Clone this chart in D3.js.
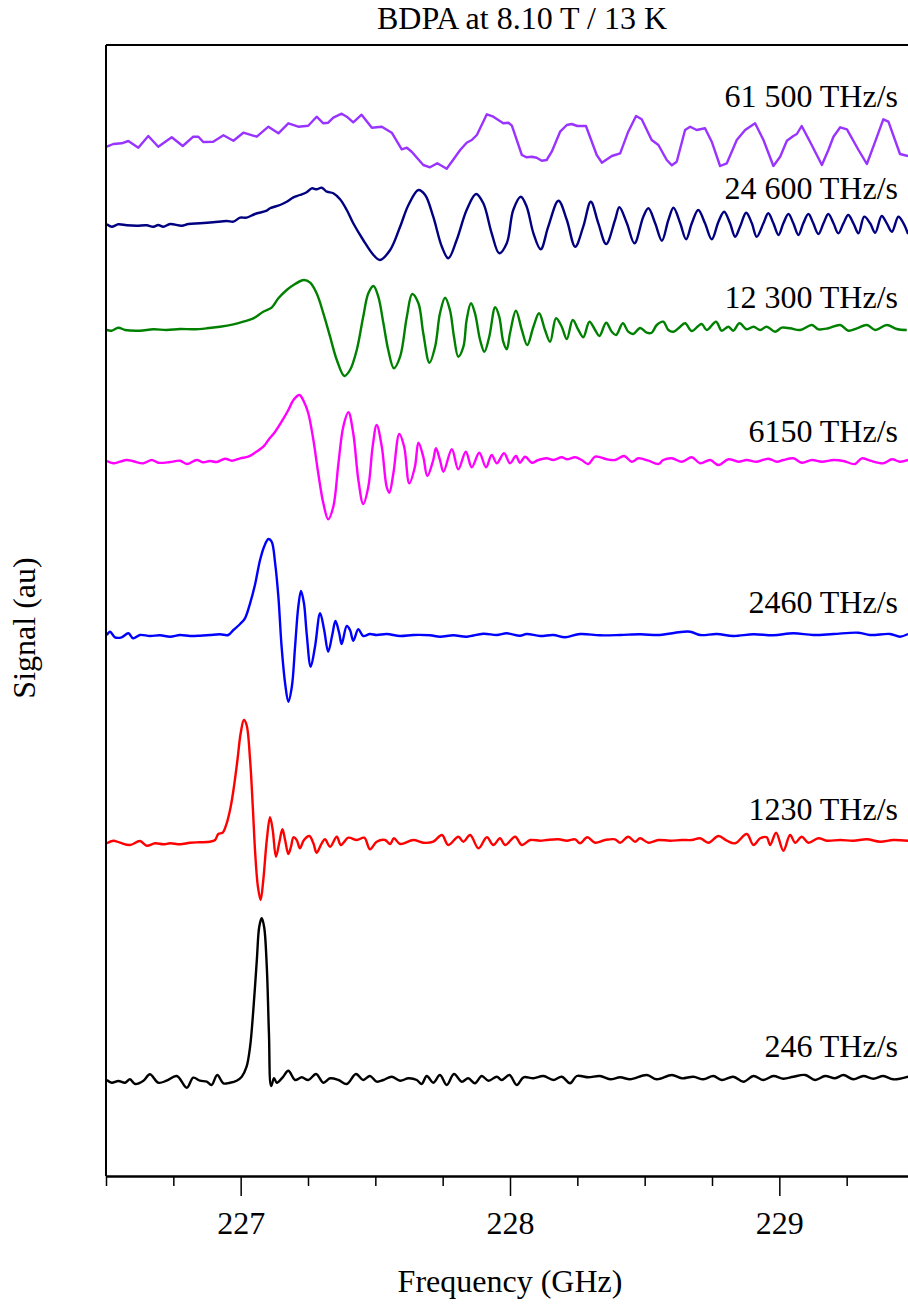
<!DOCTYPE html>
<html>
<head>
<meta charset="utf-8">
<script src="https://cdn.jsdelivr.net/npm/d3@7"></script>
<style>
    body { margin: 0; background: #fff; }
    text { font-family: "Liberation Serif", "Times New Roman", serif; fill: #000; }
    .trace { fill: none; stroke-width: 2.4; stroke-linejoin: round; }
    .axis path, .axis line { stroke: #000; }
</style>
</head>
<body>
<div id="chart"></div>
<script>
// Sweep rates (one trace each), bottom to top
var sweepRates = ["246 THz/s", "1230 THz/s", "2460 THz/s", "6150 THz/s", "12 300 THz/s", "24 600 THz/s", "61 500 THz/s"];
// Signal level (au) where each sweep-rate label sits
var labelLevels = [11.93, 35.6, 56.27, 73.43, 86.77, 97.67, 106.93];
var majorTicks = [227, 228, 229];
var minorTicks = [226.5, 226.75, 227.25, 227.5, 227.75, 228.25, 228.5, 228.75, 229.25, 229.5];

// Traces: [frequency (GHz), signal (au, offset included)]
var trace246 = [[226.503,9.6],[226.521,9.33],[226.546,9.5],[226.571,9.33],[226.589,9.67],[226.608,9.2],[226.639,9.53],[226.663,10.17],[226.694,9.33],[226.725,9.53],[226.763,10],[226.800,8.83],[226.824,9.83],[226.849,9.53],[226.874,9.43],[226.892,9.1],[226.913,10.1],[226.936,9.27],[226.960,9.33],[226.985,9.53],[227.004,9.93],[227.022,10.93],[227.035,12.93],[227.047,16.6],[227.060,21.6],[227.069,24.93],[227.078,25.77],[227.087,24.93],[227.097,20.93],[227.105,14.27],[227.113,9],[227.124,9.77],[227.134,9.33],[227.156,9.87],[227.177,10.53],[227.202,9.6],[227.227,9.87],[227.251,9.6],[227.280,10.2],[227.307,9.33],[227.332,9.77],[227.363,9.6],[227.394,9.2],[227.428,10.2],[227.455,9.6],[227.480,10],[227.505,9.43],[227.530,9.6],[227.561,9.93],[227.592,9.53],[227.623,9.77],[227.654,9.6],[227.672,9.2],[227.691,10],[227.715,9.33],[227.740,10.1],[227.765,9.1],[227.792,10.2],[227.821,9.43],[227.845,9.77],[227.870,9.27],[227.895,10],[227.920,9.53],[227.951,9.93],[227.969,9.6],[227.998,10.1],[228.025,9.1],[228.050,9.87],[228.087,9.77],[228.124,10],[228.161,9.6],[228.192,9.93],[228.223,9.27],[228.248,10],[228.291,9.87],[228.334,10],[228.372,9.67],[228.409,9.87],[228.446,9.67],[228.508,10.1],[228.545,9.67],[228.601,10.1],[228.638,9.77],[228.681,9.93],[228.718,9.67],[228.755,10],[228.786,9.6],[228.829,9.93],[228.867,9.43],[228.904,10],[228.941,9.6],[228.978,10],[229.015,9.73],[229.052,9.93],[229.096,10.1],[229.133,9.6],[229.170,10],[229.207,9.77],[229.238,10.1],[229.275,9.67],[229.312,10],[229.349,9.73],[229.386,10],[229.423,9.67],[229.478,9.93]];

var trace1230 = [[226.503,33.27],[226.527,33.53],[226.552,33.33],[226.589,33.1],[226.626,33.5],[226.651,33.03],[226.682,33.27],[226.713,33.17],[226.738,33.27],[226.775,33.17],[226.812,33.33],[226.849,33.37],[226.886,33.43],[226.905,33.6],[226.917,34.2],[226.933,34.33],[226.948,35.27],[226.963,36.93],[226.975,38.93],[226.988,41.6],[227.000,44.27],[227.012,45.6],[227.022,45.1],[227.035,41.6],[227.045,36.93],[227.054,32.27],[227.064,28.93],[227.074,27.6],[227.084,29.6],[227.097,33.6],[227.109,35.87],[227.119,34.6],[227.131,31.93],[227.144,33.43],[227.155,34.67],[227.165,33.6],[227.177,32.2],[227.187,32.93],[227.196,33.87],[227.208,33.6],[227.220,32.77],[227.235,33.6],[227.255,34],[227.270,33.27],[227.282,32.33],[227.301,33.27],[227.313,33.67],[227.332,32.93],[227.357,33.93],[227.372,33.1],[227.400,33.83],[227.431,33.6],[227.459,33.83],[227.480,32.67],[227.505,33.43],[227.536,33.6],[227.555,33.2],[227.569,33.77],[227.592,33.2],[227.641,33.6],[227.678,33.33],[227.715,33.43],[227.747,34.1],[227.771,33.1],[227.808,33.93],[227.827,33.43],[227.852,34.1],[227.883,32.77],[227.914,33.87],[227.938,33.1],[227.963,33.77],[227.982,33.1],[228.019,33.93],[228.044,33.1],[228.075,33.6],[228.112,33.53],[228.136,33.6],[228.180,33.67],[228.211,33.53],[228.242,33.67],[228.260,33.27],[228.287,33.87],[228.316,33.33],[228.353,33.6],[228.390,33.67],[228.409,33.33],[228.439,33.93],[228.464,33.43],[228.483,33.77],[228.514,33.33],[228.551,33.6],[228.594,33.53],[228.638,33.6],[228.675,33.6],[228.706,33.77],[228.737,33.33],[228.774,34],[228.805,33.53],[228.836,33.27],[228.879,34.2],[228.904,33.1],[228.929,33.77],[228.953,33.87],[228.966,33.1],[228.988,34.33],[229.015,32.53],[229.040,34.1],[229.059,33.33],[229.083,33.93],[229.108,33.33],[229.145,33.77],[229.176,33.53],[229.226,33.6],[229.275,33.53],[229.325,33.67],[229.374,33.43],[229.423,33.6],[229.478,33.53]];

var trace2460 = [[226.503,54.1],[226.515,54.43],[226.533,53.87],[226.558,53.87],[226.583,54.27],[226.601,53.77],[226.626,54.1],[226.663,54],[226.701,54.07],[226.738,53.93],[226.775,54.1],[226.812,54],[226.849,54.03],[226.886,54.1],[226.923,54.17],[226.954,54.1],[226.973,54.6],[226.998,55.2],[227.016,55.77],[227.035,57.27],[227.053,59.1],[227.072,61.6],[227.087,62.93],[227.103,63.7],[227.115,63.43],[227.128,61.27],[227.140,57.93],[227.152,52.93],[227.165,49.27],[227.177,47.43],[227.190,48.93],[227.202,52.93],[227.214,56.93],[227.224,58.5],[227.235,57.27],[227.245,54.27],[227.260,50.93],[227.276,52.93],[227.295,56.27],[227.310,54.6],[227.325,52.43],[227.340,54.1],[227.352,55.5],[227.366,54.27],[227.375,53.2],[227.394,55],[227.406,54.6],[227.418,53.53],[227.437,54.67],[227.455,54],[227.480,54.2],[227.505,54.1],[227.542,54.2],[227.592,54],[227.641,54.1],[227.703,54.07],[227.740,53.93],[227.790,54.07],[227.839,53.93],[227.901,54.23],[227.951,54.1],[227.988,54.27],[228.037,54.03],[228.062,54.2],[228.112,54],[228.161,54.1],[228.204,53.87],[228.260,54.2],[228.334,54.07],[228.409,54.1],[228.483,54.17],[228.557,54.1],[228.613,54.33],[228.669,54.43],[228.706,54.1],[228.768,54.2],[228.829,54],[228.904,54.17],[228.978,54.07],[229.052,54.27],[229.126,54.1],[229.201,54.2],[229.294,54.33],[229.337,54.1],[229.411,54.2],[229.448,53.93],[229.478,54.2]];

var trace6150 = [[226.503,71.5],[226.527,71.27],[226.552,71.43],[226.577,71.6],[226.601,71.47],[226.639,71.27],[226.670,71.6],[226.694,71.33],[226.738,71.4],[226.775,71.53],[226.800,71.2],[226.837,71.6],[226.861,71.37],[226.886,71.5],[226.911,71.4],[226.942,71.73],[226.967,71.53],[226.998,71.77],[227.028,71.93],[227.053,72.33],[227.084,72.93],[227.103,73.6],[227.128,74.43],[227.152,75.43],[227.177,76.6],[227.196,77.6],[227.218,78.1],[227.235,77.43],[227.251,76.27],[227.270,73.6],[227.288,70.27],[227.307,67.27],[227.325,65.67],[227.344,66.93],[227.363,71.27],[227.381,74.93],[227.400,76.37],[227.418,74.27],[227.437,69.6],[227.455,67.2],[227.474,68.93],[227.490,72.93],[227.505,75.1],[227.524,72.93],[227.542,68.93],[227.552,68.33],[227.567,70.27],[227.589,74.2],[227.607,72.93],[227.626,69.27],[227.647,70.93],[227.660,73.33],[227.678,71.93],[227.693,70],[227.715,71.6],[227.725,72.77],[227.740,71.6],[227.753,70.43],[227.784,72.67],[227.808,70.67],[227.836,72.43],[227.858,70.87],[227.886,72.33],[227.911,70.87],[227.932,72.1],[227.951,71.27],[227.978,72.27],[228.000,71.27],[228.022,72],[228.037,71.33],[228.056,71.93],[228.081,71.33],[228.105,71.6],[228.136,71.77],[228.161,71.6],[228.192,71.87],[228.211,71.67],[228.242,71.87],[228.266,71.6],[228.291,71.2],[228.316,71.93],[228.359,71.67],[228.390,71.6],[228.424,72],[228.452,71.43],[228.477,71.77],[228.514,71.53],[228.551,71.2],[228.569,71.6],[228.601,71.77],[228.638,71.43],[228.675,71.87],[228.706,71.27],[228.743,71.6],[228.774,71.1],[228.811,71.67],[228.848,71.43],[228.879,71.6],[228.916,71.43],[228.959,71.73],[228.991,71.43],[229.015,71.6],[229.052,71.77],[229.083,71.33],[229.121,71.6],[229.158,71.43],[229.201,71.6],[229.238,71.5],[229.281,71.2],[229.306,71.77],[229.337,71.53],[229.386,71.27],[229.418,71.67],[229.448,71.43],[229.478,71.6]];

var trace12300 = [[226.503,84.6],[226.521,84.53],[226.546,84.83],[226.571,84.6],[226.626,84.53],[226.676,84.67],[226.725,84.6],[226.775,84.7],[226.824,84.67],[226.874,84.77],[226.923,84.93],[226.973,85.17],[227.010,85.43],[227.047,85.77],[227.084,86.43],[227.115,86.83],[227.140,87.77],[227.171,88.6],[227.202,89.2],[227.235,89.6],[227.258,89.33],[227.282,88.27],[227.307,86.27],[227.332,83.93],[227.357,81.6],[227.385,80],[227.406,80.6],[227.431,82.6],[227.455,85.93],[227.474,88.27],[227.493,89],[227.511,87.93],[227.530,85.27],[227.548,82.6],[227.569,80.77],[227.592,81.93],[227.617,85.93],[227.637,88.2],[227.660,87.27],[227.678,84.27],[227.701,81.33],[227.722,82.93],[227.740,86.27],[227.759,87.83],[227.777,86.6],[227.792,83.93],[227.808,81.93],[227.827,82.93],[227.839,85.6],[227.855,87.27],[227.870,86.27],[227.889,83.6],[227.905,82.43],[227.923,83.93],[227.945,86.87],[227.960,85.93],[227.975,83.43],[227.988,82.67],[228.000,84.27],[228.022,86.53],[228.044,84.6],[228.064,83.1],[228.087,84.93],[228.108,86.27],[228.130,84.6],[228.149,83.43],[228.171,85.77],[228.192,84.93],[228.211,83.7],[228.233,85.6],[228.254,84.6],[228.272,83.87],[228.295,85.43],[228.316,84.6],[228.332,84],[228.357,85.33],[228.378,84.43],[228.394,84.1],[228.419,85.27],[228.439,84.43],[228.458,84.2],[228.483,84.8],[228.508,84.33],[228.526,84.33],[228.545,85.1],[228.569,85.43],[228.588,84.6],[228.607,84.43],[228.632,84.93],[228.650,85.27],[228.675,84.5],[228.699,85],[228.712,85.2],[228.731,84.6],[228.765,85.43],[228.786,84.53],[228.811,84.93],[228.829,84.53],[228.852,85.27],[228.879,84.67],[228.904,84.93],[228.929,84.6],[228.953,84.93],[228.984,84.43],[229.009,84.83],[229.040,84.77],[229.077,84.6],[229.121,85.1],[229.145,84.67],[229.182,84.77],[229.226,85.1],[229.256,84.53],[229.288,84.77],[229.325,85.1],[229.356,84.6],[229.399,85.1],[229.436,84.7],[229.473,84.6]];

var trace24600 = [[226.503,95.17],[226.521,94.93],[226.546,95.17],[226.577,95.07],[226.614,95.03],[226.651,95.07],[226.676,94.93],[226.694,95.1],[226.713,94.93],[226.738,95.2],[226.781,95.03],[226.806,95.2],[226.849,95.27],[226.898,95.37],[226.948,95.5],[226.973,95.43],[226.998,95.83],[227.022,95.83],[227.053,96.2],[227.097,96.53],[227.109,96.77],[227.146,97.1],[227.171,97.43],[227.196,97.87],[227.220,98.1],[227.245,98.37],[227.264,98.77],[227.282,98.67],[227.301,98.83],[227.320,98.43],[227.344,98.27],[227.369,97.67],[227.394,96.6],[227.418,95.27],[227.455,93.6],[227.493,92.1],[227.517,91.6],[227.555,92.6],[227.592,94.93],[227.623,97.1],[227.660,98.6],[227.685,98.1],[227.715,95.93],[227.747,92.93],[227.771,91.77],[227.802,93.6],[227.839,96.6],[227.874,98.2],[227.901,97.27],[227.932,94.27],[227.960,92.27],[227.988,93.27],[228.012,96.6],[228.040,97.93],[228.062,96.93],[228.087,94.27],[228.114,92.67],[228.142,94.93],[228.180,97.53],[228.211,95.6],[228.242,92.93],[228.272,94.93],[228.300,97.43],[228.328,95.27],[228.357,93.2],[228.390,95.6],[228.406,96.87],[228.434,95.27],[228.462,93.27],[228.495,95.93],[228.514,96.77],[228.539,95.27],[228.564,93.53],[228.588,95.6],[228.607,96.83],[228.632,95.27],[228.654,93.67],[228.675,95.27],[228.699,96.6],[228.724,95.27],[228.749,93.67],[228.774,95.43],[228.795,96.43],[228.817,95.27],[228.836,93.93],[228.854,94.93],[228.877,96.33],[228.898,95.27],[228.916,93.93],[228.941,95.27],[228.959,96.27],[228.978,95.27],[228.997,94.1],[229.015,95.27],[229.034,96.2],[229.052,95.27],[229.071,94.1],[229.089,95.27],[229.108,96.2],[229.126,95.27],[229.145,94.2],[229.164,95.27],[229.182,96.2],[229.201,95.27],[229.219,94.27],[229.238,95.27],[229.256,96.1],[229.275,95.27],[229.294,94.27],[229.315,95.93],[229.337,95.27],[229.356,94.33],[229.380,96],[229.399,95.27],[229.418,94.43],[229.442,95.93],[229.461,95.27],[229.478,94.2]];

var trace61500 = [[226.503,102.93],[226.527,103.2],[226.558,103.27],[226.583,103.5],[226.620,102.83],[226.657,104],[226.694,102.93],[226.744,103.87],[226.785,103],[226.824,103.93],[226.843,103.93],[226.861,103.4],[226.898,103.43],[226.936,104.07],[226.973,103.53],[227.010,104.33],[227.060,103.93],[227.103,104.93],[227.140,104.27],[227.177,105.27],[227.214,104.93],[227.251,105.03],[227.282,105.93],[227.307,105.27],[227.325,105.33],[227.344,105.83],[227.375,106.23],[227.394,105.93],[227.418,105.37],[227.449,106.13],[227.487,104.83],[227.524,104.93],[227.561,104.33],[227.598,102.67],[227.617,102.83],[227.635,102.43],[227.678,101.1],[227.703,100.87],[227.730,101.27],[227.765,100.73],[227.815,102.6],[227.839,103.33],[227.858,103.6],[227.877,104.1],[227.914,106.17],[227.938,105.93],[227.975,105.27],[227.994,105.33],[228.007,105.03],[228.044,102.1],[228.062,101.87],[228.081,101.93],[228.099,101.83],[228.118,101.53],[228.136,101.6],[228.155,102.43],[228.186,104.43],[228.211,105.1],[228.229,105.2],[228.250,105],[228.282,105],[228.322,102.1],[228.341,101.33],[228.378,102],[228.409,102.27],[228.439,104.43],[228.468,106],[228.489,105.67],[228.526,103.6],[228.551,103.1],[228.582,101.6],[228.601,101.07],[228.619,101.43],[228.650,104.6],[228.669,104.93],[228.693,104.6],[228.724,104.77],[228.749,103.43],[228.780,101],[228.805,101.27],[228.842,103.6],[228.873,104.6],[228.910,105.27],[228.941,103.6],[228.978,101],[229.003,101.93],[229.028,103.53],[229.052,104],[229.065,104.2],[229.083,105],[229.114,103.43],[229.158,101.1],[229.182,102.6],[229.201,103.93],[229.226,104.87],[229.251,104.67],[229.294,102.6],[229.325,101.2],[229.349,102.93],[229.386,105.67],[229.405,105.43],[229.448,102.2],[229.478,102]];

var traces = [trace246, trace1230, trace2460, trace6150, trace12300, trace24600, trace61500];
var traceColors = ["#000000", "#ff0000", "#0000ff", "#ff00ff", "#008000", "#000080", "#9933ff"];

// Dimensions of svg
var svgWidth = 908,
    svgHeight = 1308,
    margin = { top: 45, left: 106 },
    width = 808,
    height = 1131;

var x = d3.scaleLinear()
    .domain([226.5, 229.5])
    .range([margin.left, margin.left + width]);

var y = d3.scaleLinear()
    .domain([0, 113.1])
    .range([margin.top + height, margin.top]);

var svg = d3.select("#chart").append("svg")
    .attr("width", svgWidth)
    .attr("height", svgHeight);

svg.append("clipPath")
    .attr("id", "plot-clip")
  .append("rect")
    .attr("x", margin.left)
    .attr("y", margin.top)
    .attr("width", width)
    .attr("height", height);

// Traces
var line = d3.line()
    .x(d => x(d[0]))
    .y(d => y(d[1]));

svg.append("g")
    .attr("clip-path", "url(#plot-clip)")
  .selectAll("path")
  .data(traces)
  .join("path")
    .attr("class", "trace")
    .attr("stroke", (d, i) => traceColors[i])
    .attr("d", (d, i) => line.curve(i === 6 ? d3.curveLinear : d3.curveCatmullRom.alpha(0.5))(d));

// Sweep rate labels
svg.append("g")
  .selectAll("text")
  .data(sweepRates)
  .join("text")
    .attr("x", 898)
    .attr("y", (d, i) => y(labelLevels[i]))
    .attr("text-anchor", "end")
    .style("font-size", "32px")
    .text(d => d);

// Frame: top and left
svg.append("line")
    .attr("x1", x(226.5)).attr("x2", x(229.5))
    .attr("y1", y(113.1)).attr("y2", y(113.1))
    .attr("stroke", "#000").attr("stroke-width", 2);
svg.append("line")
    .attr("x1", x(226.5)).attr("x2", x(226.5))
    .attr("y1", y(113.1)).attr("y2", y(0))
    .attr("stroke", "#000").attr("stroke-width", 2);

// X axis: minor then major ticks
svg.append("g")
    .attr("class", "axis")
    .attr("transform", "translate(0," + y(0) + ")")
    .call(d3.axisBottom(x).tickValues(minorTicks).tickSize(10).tickSizeOuter(0).tickFormat(""))
    .call(g => g.select(".domain").attr("stroke-width", 2.5))
    .call(g => g.selectAll(".tick line").attr("stroke-width", 1.5));

svg.append("g")
    .attr("class", "axis")
    .attr("transform", "translate(0," + y(0) + ")")
    .call(d3.axisBottom(x).tickValues(majorTicks).tickSize(20).tickPadding(15).tickFormat(d3.format("d")))
    .call(g => g.select(".domain").remove())
    .call(g => g.selectAll(".tick line").attr("stroke-width", 1.5))
    .call(g => g.selectAll(".tick text")
        .style("font-size", "32px")
        .style("font-family", "'Liberation Serif', 'Times New Roman', serif")
        .attr("fill", "#000"));

// Title
svg.append("text")
    .attr("x", 522)
    .attr("y", 29)
    .attr("text-anchor", "middle")
    .style("font-size", "32px")
    .text("BDPA at 8.10 T / 13 K");

// X axis label
svg.append("text")
    .attr("x", x(228))
    .attr("y", 1292)
    .attr("text-anchor", "middle")
    .style("font-size", "32px")
    .text("Frequency (GHz)");

// Y axis label
svg.append("text")
    .attr("transform", "translate(35," + 628 + ") rotate(-90)")
    .attr("text-anchor", "middle")
    .style("font-size", "32px")
    .text("Signal (au)");
</script>
</body>
</html>
